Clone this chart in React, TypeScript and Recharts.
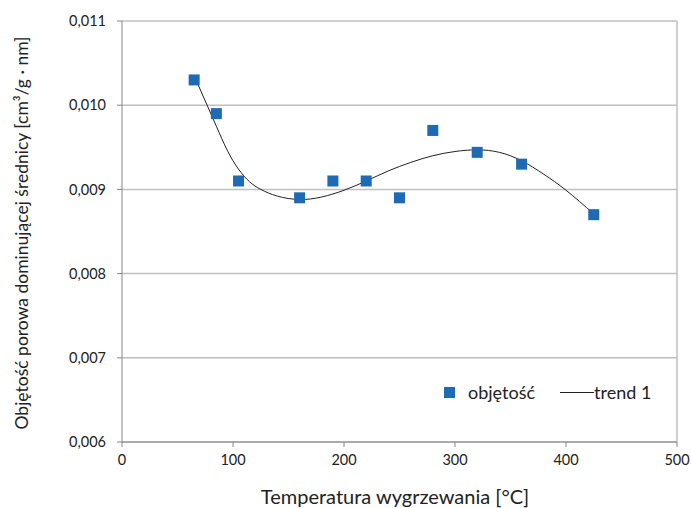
import {
  ComposedChart,
  Scatter,
  Line,
  XAxis,
  YAxis,
  CartesianGrid,
  ReferenceLine,
} from "recharts";

const temps = [65, 85, 105, 160, 190, 220, 250, 280, 320, 360, 425];
const volumes = [0.0103, 0.0099, 0.0091, 0.0089, 0.0091, 0.0091, 0.0089, 0.0097, 0.00944, 0.0093, 0.0087];

// trend 1
const trendX = [65, 75, 85, 95, 105, 115, 125, 140, 160, 180, 200, 220, 240, 260, 280, 300, 320, 340, 360, 380, 400, 425];
const trendY = [
  0.01035, 0.01005, 0.00975, 0.00946, 0.00924, 0.00909, 0.009, 0.00892, 0.00888, 0.00891, 0.00899,
  0.0091, 0.00922, 0.00932, 0.0094, 0.00945, 0.00947, 0.00944, 0.00934, 0.00918, 0.00899, 0.00871,
];

const xTicks = [0, 100, 200, 300, 400, 500];
const yTicks = [0.006, 0.007, 0.008, 0.009, 0.01, 0.011];

const points = temps.map((t, i) => ({ x: t, y: volumes[i] }));
const trend = trendX.map((t, i) => ({ x: t, y: trendY[i] }));

const FONT = "Lato, 'Open Sans', sans-serif";
const BLUE = "#1F6BB3";
const AXIS = "#868686";
const GRID = "#C0C0C0";

const Square = (p: any) => (
  <rect x={p.cx - 5.5} y={p.cy - 5.5} width={11} height={11} fill={BLUE} />
);

export default function App() {
  return (
    <div style={{ position: "absolute", left: 0, top: 0, width: 691, height: 508, background: "#fff", fontFamily: FONT }}>
      <ComposedChart
        width={691}
        height={508}
        margin={{ top: 21, right: 14, bottom: 36, left: 0 }}
      >
        <CartesianGrid vertical={false} stroke={GRID} strokeWidth={1.5} />
        <ReferenceLine x={500} stroke={GRID} strokeWidth={1.5} />
        <XAxis
          type="number"
          dataKey="x"
          domain={[0, 500]}
          ticks={xTicks}
          stroke={AXIS}
          tickSize={5}
          tickMargin={8}
          tick={{ fill: "#222", fontSize: 14.5, fontFamily: FONT }}
        />
        <YAxis
          type="number"
          dataKey="y"
          domain={[0.006, 0.011]}
          ticks={yTicks}
          width={122}
          stroke={AXIS}
          tickSize={5}
          tickMargin={11}
          tickFormatter={(v: number) => v.toFixed(3).replace(".", ",")}
          tick={{ fill: "#222", fontSize: 14.5, fontFamily: FONT }}
        />
        <Line
          data={trend}
          dataKey="y"
          type="natural"
          stroke="#222"
          strokeWidth={1}
          dot={false}
          isAnimationActive={false}
        />
        <Scatter data={points} dataKey="y" shape={Square} isAnimationActive={false} />
      </ComposedChart>

      <div style={{ position: "absolute", left: 444, top: 381, display: "flex", alignItems: "center", fontSize: 18, color: "#222" }}>
        <span style={{ display: "inline-block", width: 11, height: 11, background: BLUE, marginRight: 13 }} />
        <span>objętość</span>
        <span style={{ display: "inline-block", width: 34, height: 1, background: "#222", marginLeft: 25 }} />
        <span>trend 1</span>
      </div>

      <div style={{ position: "absolute", left: 0, width: 790, top: 483, textAlign: "center", fontSize: 20, lineHeight: "26px", color: "#222" }}>
        Temperatura wygrzewania [°C]
      </div>

      <div
        style={{
          position: "absolute",
          left: 22 - 300,
          top: 233 - 12,
          width: 600,
          height: 24,
          lineHeight: "24px",
          textAlign: "center",
          transform: "rotate(-90deg)",
          whiteSpace: "nowrap",
          fontSize: 17.5,
          color: "#222",
        }}
      >
        Objętość porowa dominującej średnicy [cm³/g · nm]
      </div>
    </div>
  );
}
